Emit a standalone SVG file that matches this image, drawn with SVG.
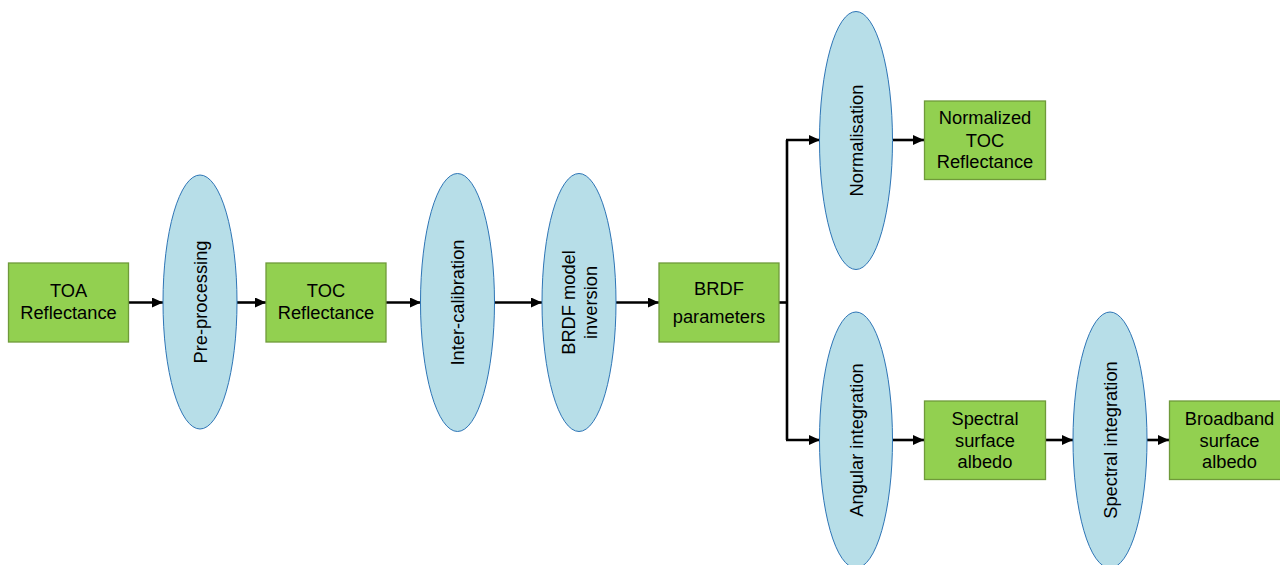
<svg xmlns="http://www.w3.org/2000/svg" width="1280" height="565" viewBox="0 0 1280 565">
<defs>
<marker id="ah" markerWidth="11" markerHeight="10" refX="11" refY="5" orient="auto" markerUnits="userSpaceOnUse">
<path d="M0,0 L11,5 L0,10 Z" fill="#000"/>
</marker>
<style>
.box{fill:#92D050;stroke:#6F9A3A;stroke-width:1.3}
.ell{fill:#B7DEE8;stroke:#2E75B6;stroke-width:1}
.t{font-family:"Liberation Sans",Arial,sans-serif;font-size:18.3px;fill:#000;text-anchor:middle}
.c{fill:none;stroke:#000;stroke-width:2.6}
.a{marker-end:url(#ah)}
</style>
</defs>
<rect width="1280" height="565" fill="#fff"/>
<g id="connectors">
<line class="c a" x1="128" y1="302.5" x2="163" y2="302.5"/>
<line class="c a" x1="237" y1="302.5" x2="266" y2="302.5"/>
<line class="c a" x1="386" y1="302.5" x2="421" y2="302.5"/>
<line class="c a" x1="494" y1="302.5" x2="542" y2="302.5"/>
<line class="c a" x1="616" y1="302.5" x2="659" y2="302.5"/>
<line class="c" x1="779" y1="302.5" x2="787" y2="302.5"/>
<polyline class="c" points="787,140 787,440"/>
<polyline class="c a" points="786,140 820,140"/>
<polyline class="c a" points="786,440 820,440"/>
<line class="c a" x1="893" y1="140" x2="924" y2="140"/>
<line class="c a" x1="893" y1="440" x2="924" y2="440"/>
<line class="c a" x1="1046" y1="440" x2="1073" y2="440"/>
<line class="c a" x1="1147" y1="440" x2="1169" y2="440"/>
</g>
<g id="toa"><rect class="box" x="8.5" y="263" width="120" height="79"/><text class="t" x="68.5" y="297">TOA</text><text class="t" x="68.5" y="319">Reflectance</text></g>
<g id="preproc"><ellipse class="ell" cx="200" cy="302" rx="37" ry="127"/><text class="t" transform="translate(207,302) rotate(-90)">Pre-processing</text></g>
<g id="toc"><rect class="box" x="266" y="263" width="120" height="79"/><text class="t" x="326" y="297">TOC</text><text class="t" x="326" y="319">Reflectance</text></g>
<g id="intercal"><ellipse class="ell" cx="457.5" cy="302.5" rx="37" ry="129"/><text class="t" transform="translate(464,302.5) rotate(-90)">Inter-calibration</text></g>
<g id="brdfinv"><ellipse class="ell" cx="579" cy="302.5" rx="37" ry="129"/><text class="t" transform="translate(575,302.5) rotate(-90)">BRDF model</text><text class="t" transform="translate(597,302.5) rotate(-90)">inversion</text></g>
<g id="brdfpar"><rect class="box" x="659" y="263" width="120" height="79"/><text class="t" x="719" y="295">BRDF</text><text class="t" x="719" y="322.5">parameters</text></g>
<g id="norm"><ellipse class="ell" cx="856" cy="140.5" rx="36.5" ry="129"/><text class="t" transform="translate(862.5,140.5) rotate(-90)">Normalisation</text></g>
<g id="ntoc"><rect class="box" x="924.5" y="101" width="121" height="78.5"/><text class="t" x="985" y="124">Normalized</text><text class="t" x="985" y="146.5">TOC</text><text class="t" x="985" y="168">Reflectance</text></g>
<g id="angint"><ellipse class="ell" cx="856" cy="440" rx="36.5" ry="128"/><text class="t" transform="translate(862.5,440) rotate(-90)">Angular integration</text></g>
<g id="ssa"><rect class="box" x="924.5" y="401" width="121" height="78.5"/><text class="t" x="985" y="425">Spectral</text><text class="t" x="985" y="446.5">surface</text><text class="t" x="985" y="468">albedo</text></g>
<g id="specint"><ellipse class="ell" cx="1110" cy="440" rx="37" ry="128"/><text class="t" transform="translate(1116.5,440) rotate(-90)">Spectral integration</text></g>
<g id="bsa"><rect class="box" x="1169.5" y="401" width="121" height="78.5"/><text class="t" x="1229.5" y="425">Broadband</text><text class="t" x="1229.5" y="446.5">surface</text><text class="t" x="1229.5" y="468">albedo</text></g>
</svg>
